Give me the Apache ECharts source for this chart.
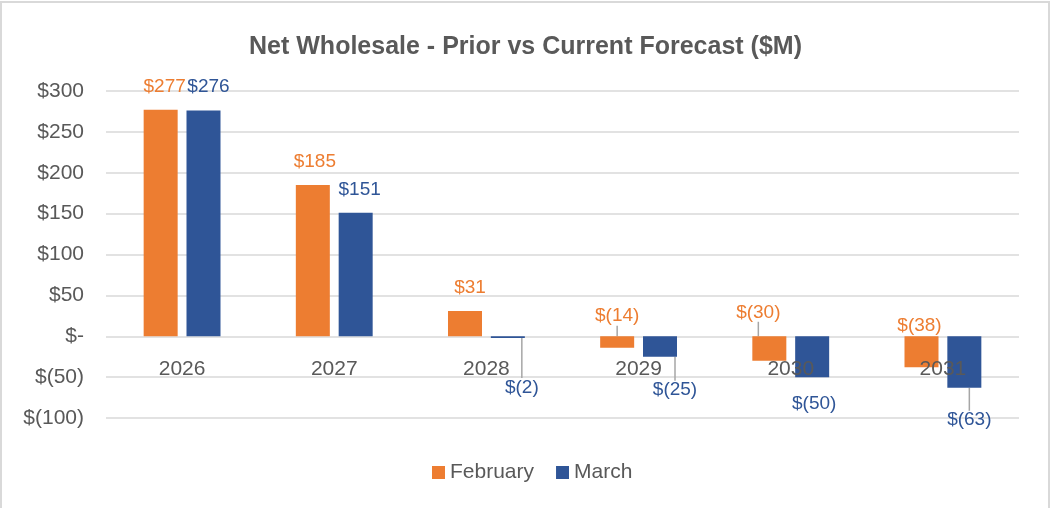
<!DOCTYPE html>
<html>
<head>
<meta charset="utf-8">
<script src="https://cdn.jsdelivr.net/npm/echarts@6/dist/echarts.min.js"></script>
<style>
html, body { margin: 0; padding: 0; background: #fff; }
#main { position: absolute; left: 0; top: 0; width: 1051px; height: 508px; }
#frame { position: absolute; left: 0; top: 1px; width: 1050px; height: 530px; border: 2px solid #d9d9d9; box-sizing: border-box; pointer-events: none; }
</style>
</head>
<body>
<div id="main"></div>
<div id="frame"></div>
<script>
var years     = ['2026', '2027', '2028', '2029', '2030', '2031'];
var february  = [277, 185, 31, -14, -30, -38];
var march     = [276, 151, -2, -25, -50, -63];
var yTicks    = {min: -100, max: 300, step: 50};

/* Label nudges (px) to mimic Excel's hand-placed data labels. */
var labelNudge = [
    [[4, 0], [2, 0], [5, 0], [0, -55], [-11, -72], [-2, -65]],
    [[5, 0], [4, 0], [14, 26], [15, 10], [2, 3], [5, 9]]
];
var leaderShown = [
    [false, false, false, true, true, false],
    [false, false, true, true, false, true]
];

var textColor = '#595959';
var gridColor = '#d9d9d9';
var fontName  = '"Liberation Sans", Arial, sans-serif';

function money(v)
{
    if(v == 0) return '$-';
    if(v < 0) return '$(' + Math.abs(v) + ')';
    return '$' + v;
}

function buildSeries(name, values, color, idx)
{
    return {
        name: name,
        type: 'bar',
        barWidth: 34,
        barGap: '26%',
        itemStyle: {color: color},
        label: {
            show: true,
            position: 'outside',
            distance: 14,
            color: color,
            fontFamily: fontName,
            fontSize: 19,
            formatter: function(p) { return money(p.value); }
        },
        labelLine: {show: true, lineStyle: {color: '#a6a6a6', width: 1.5}},
        labelLayout: function(p)
        {
            var n = labelNudge[idx][p.dataIndex];
            return {dx: n[0], dy: n[1]};
        },
        data: values.map(function(v, i)
        {
            return {value: v, labelLine: {show: leaderShown[idx][i]}};
        })
    };
}

var chart  = echarts.init(document.getElementById('main'), null, {renderer: 'canvas'});
var option = {
    animation: false,
    title: {
        text: 'Net Wholesale - Prior vs Current Forecast ($M)',
        left: 'center',
        top: 30,
        textStyle: {color: textColor, fontFamily: fontName, fontWeight: 'bold', fontSize: 25}
    },
    legend: {
        left: 427,
        top: 457,
        icon: 'rect',
        itemWidth: 13,
        itemHeight: 13,
        itemGap: 22,
        textStyle: {color: textColor, fontFamily: fontName, fontSize: 21},
        data: ['February', 'March']
    },
    grid: {left: 106, right: 32, top: 91, bottom: 90, containLabel: false},
    xAxis: {
        type: 'category',
        data: years,
        offset: -81,
        z: 10,
        axisTick: {show: false},
        axisLine: {show: false, onZero: false},
        axisLabel: {color: textColor, fontFamily: fontName, fontSize: 21, margin: 22}
    },
    yAxis: {
        type: 'value',
        min: yTicks.min,
        max: yTicks.max,
        interval: yTicks.step,
        axisLine: {show: false},
        axisTick: {show: false},
        splitLine: {lineStyle: {color: gridColor, width: 1.5}},
        axisLabel: {color: textColor, fontFamily: fontName, fontSize: 21, margin: 22, formatter: money}
    },
    series: [
        buildSeries('February', february, '#ED7D31', 0),
        buildSeries('March', march, '#2F5597', 1)
    ]
};
chart.setOption(option);
</script>
</body>
</html>
